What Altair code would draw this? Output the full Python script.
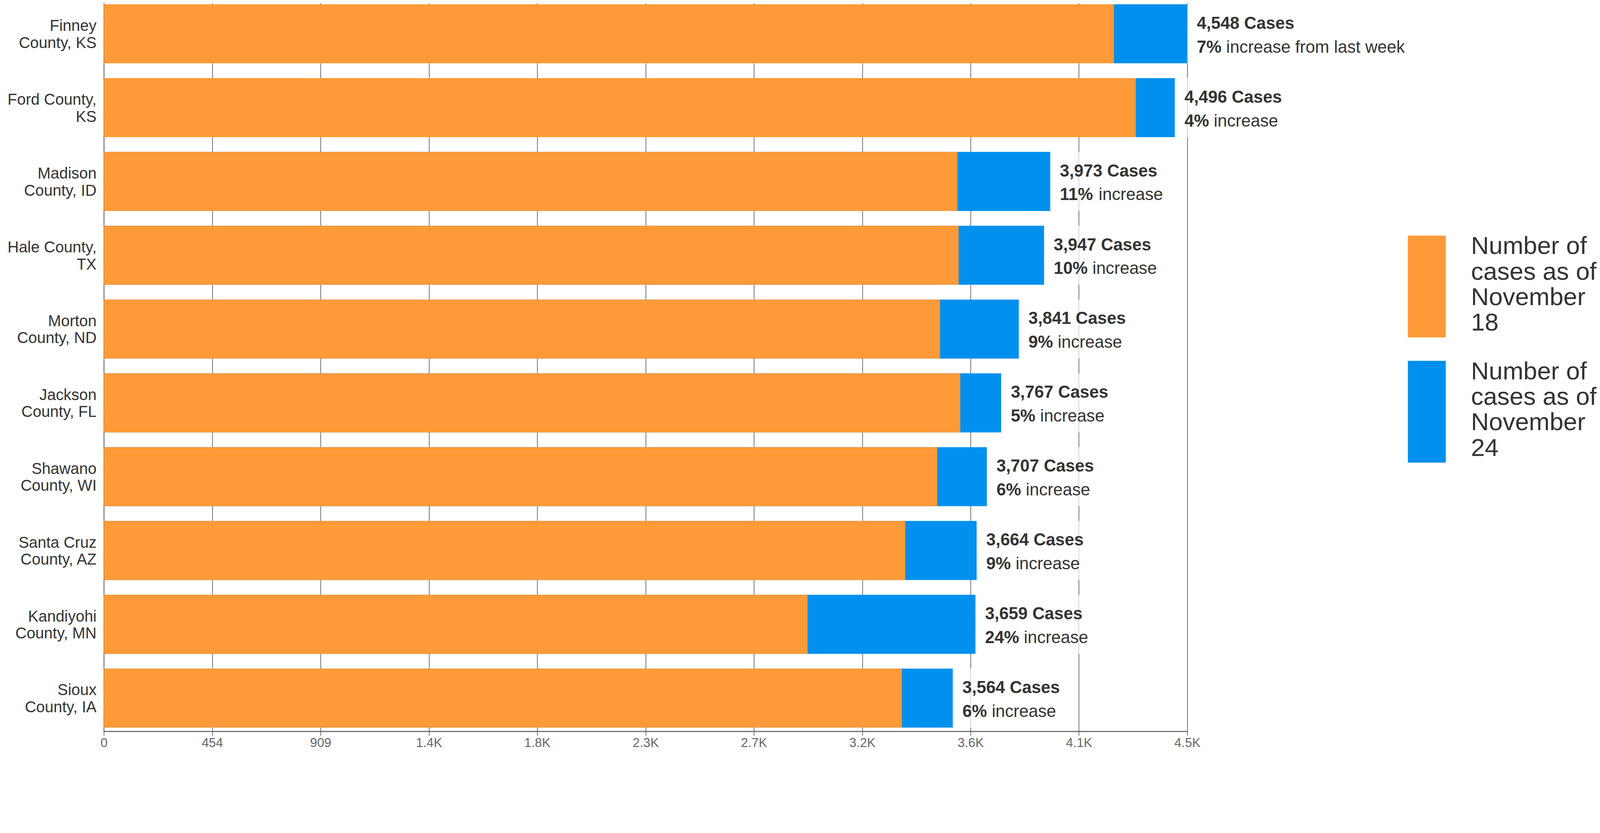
import altair as alt
import pandas as pd

# ---- data ----
counties = [
    "Finney\nCounty, KS", "Ford County,\nKS", "Madison\nCounty, ID", "Hale County,\nTX",
    "Morton\nCounty, ND", "Jackson\nCounty, FL", "Shawano\nCounty, WI", "Santa Cruz\nCounty, AZ",
    "Kandiyohi\nCounty, MN", "Sioux\nCounty, IA",
]
nov18 = [4240, 4332, 3583, 3588, 3510, 3595, 3498, 3364, 2954, 3350]
nov24 = [4548, 4496, 3973, 3947, 3841, 3767, 3707, 3664, 3659, 3564]
pct_increase = [7, 4, 11, 10, 9, 5, 6, 9, 24, 6]
increase_text = ["increase from last week"] + ["increase"] * 9
tick_labels = ["0", "454", "909", "1.4K", "1.8K", "2.3K", "2.7K", "3.2K", "3.6K", "4.1K", "4.5K"]
series = ["Number of cases as of November 18", "Number of cases as of November 24"]
series_lines = [["Number of", "cases as of", "November", "18"], ["Number of", "cases as of", "November", "24"]]

ORANGE = "#FE9A37"
BLUE = "#0290EE"
TXT = "#333333"
AXC = "#666666"
FONT = "Liberation Sans, Arial, sans-serif"
ANN = 48   # annotation font size
DX = 27    # gap between bar end and annotation

# approximate advance widths (em) of Liberation Sans, used only to place the
# regular-weight words after the bold percentage and to size the label halo
_W = {c: 0.556 for c in "0123456789"}
_W.update({",": 0.278, " ": 0.278, "%": 0.889, "C": 0.722, "a": 0.556, "s": 0.5, "e": 0.556,
           "i": 0.222, "n": 0.556, "c": 0.5, "r": 0.333, "f": 0.278, "o": 0.556, "m": 0.833,
           "l": 0.222, "t": 0.278, "w": 0.722, "k": 0.5})


def text_w(s, bold=False):
    w = sum(_W.get(ch, 0.556) for ch in s)
    if bold:
        w += 0.03 * sum(1 for ch in s if ch.isalpha())
    return w * ANN


cases = [f"{v:,} Cases" for v in nov24]
pcts = [f"{p}%" for p in pct_increase]

df = pd.DataFrame({
    "county": counties,
    "nov18": nov18,
    "nov24": nov24,
    "cases": cases,
    "pct": pcts,
    "rest": increase_text,
})
df["off"] = [DX + text_w(p + " ", True) for p in pcts]
df["lw"] = [DX + max(text_w(c, True), text_w(p + " ", True) + text_w(r)) + 6
            for c, p, r in zip(cases, pcts, increase_text)]

xmax = max(nov24)
tick_values = [xmax * i / 10 for i in range(11)]
label_expr = "[" + ",".join(f"'{t}'" for t in tick_labels) + f"][round(datum.value / {xmax / 10})]"

color_scale = alt.Scale(domain=series, range=[ORANGE, BLUE])
legend_expr = (
    f"datum.label == '{series[0]}' ? " + str(series_lines[0]) + " : " + str(series_lines[1])
)

y_enc = alt.Y(
    "county:N",
    sort=counties,
    title=None,
    scale=alt.Scale(paddingInner=0.2, paddingOuter=0.05),
    axis=alt.Axis(
        labelExpr="split(datum.label, '\\n')",
        labelFont=FONT, labelFontSize=44, labelColor=TXT, labelLineHeight=48,
        labelOffset=-21,
        labelPadding=21, ticks=False, tickSize=0, domainColor=AXC, domainWidth=2,
        labelLimit=600, grid=False,
    ),
)
x_scale = alt.Scale(domain=[0, xmax], nice=False, zero=True)
x_axis = alt.Axis(
    values=tick_values, labelExpr=label_expr, title=None,
    labelFont=FONT, labelFontSize=36, labelColor=AXC, labelPadding=4,
    tickSize=12, tickWidth=2, tickColor=AXC, domainColor=AXC, domainWidth=3,
    grid=True, gridColor=AXC, gridWidth=2, gridOpacity=1, labelFlush=False,
)
Y = alt.Y("county:N", sort=counties, title=None)
X24 = alt.X("nov24:Q", scale=x_scale, title=None)

base = alt.Chart(df)

blue = base.mark_bar(color=BLUE).encode(
    x=alt.X("nov24:Q", scale=x_scale, axis=x_axis),
    y=y_enc,
    color=alt.Color(
        "s:N", scale=color_scale,
        legend=alt.Legend(
            title=None, orient="none", legendX=3677, legendY=640, direction="vertical",
            symbolType="M-1,-0.58L1,-0.58L1,4.785L-1,4.785Z", symbolSize=11449,
            symbolStrokeWidth=0, symbolOpacity=1,
            labelFont=FONT, labelFontSize=70, labelColor=TXT,
            labelLimit=2000, labelOffset=71, rowPadding=43, padding=0,
            labelExpr=legend_expr,
        ),
    ),
).transform_calculate(s=f"'{series[1]}'")

orange = base.mark_bar(color=ORANGE).encode(
    x=alt.X("nov18:Q", scale=x_scale, title=None),
    y=Y,
    color=alt.Color("s:N", scale=color_scale),
).transform_calculate(s=f"'{series[0]}'")

halo = base.mark_rect(color="white", opacity=0.7, x2Offset=alt.ExprRef(expr="datum.lw")).encode(
    x=X24, x2="nov24:Q", y=Y,
)

cases_txt = base.mark_text(
    align="left", baseline="alphabetic", dx=DX, dy=-14,
    font=FONT, fontSize=ANN, fontWeight="bold", color=TXT,
).encode(x=X24, y=Y, text="cases:N")

pct_txt = base.mark_text(
    align="left", baseline="alphabetic", dx=DX, dy=53,
    font=FONT, fontSize=ANN, fontWeight="bold", color=TXT,
).encode(x=X24, y=Y, text="pct:N")

rest_txt = base.mark_text(
    align="left", baseline="alphabetic", dx=alt.ExprRef(expr="datum.off"), dy=53,
    font=FONT, fontSize=ANN, fontWeight="normal", color=TXT,
).encode(x=X24, y=Y, text="rest:N")

chart = alt.layer(blue, orange, halo, cases_txt, pct_txt, rest_txt).properties(
    width=3055, height=2060,
    padding={"left": 11, "top": -106, "right": 0, "bottom": -56},
).configure_view(strokeWidth=0).configure(background="white")

chart.save("out.html", embed_options={"renderer": "svg", "actions": False})
